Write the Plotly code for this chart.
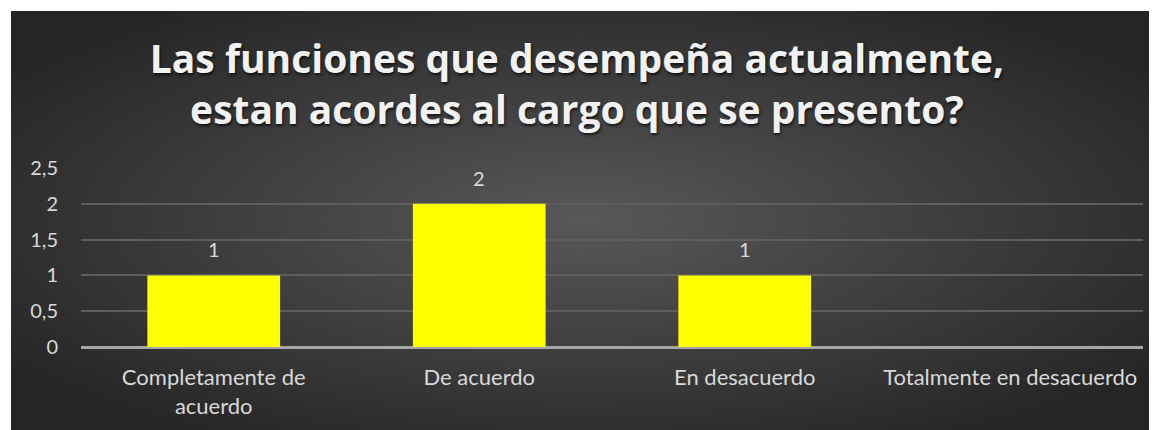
import plotly.graph_objects as go
import base64

categories = ["Completamente de<br>acuerdo", "De acuerdo", "En desacuerdo", "Totalmente en desacuerdo"]
values = [1, 2, 1, 0]
labels = ["1", "2", "1", ""]
y_ticks = [0, 0.5, 1, 1.5, 2, 2.5]
title_text = "Las funciones que desempeña actualmente,<br>estan acordes al cargo que se presento?"

# page has an 8px body margin, so the figure is sized to the remaining area
OFF = 8
W, H = 1157 - OFF, 430 - OFF
L, R, T, B = 81 - OFF, 14, 168 - OFF, 430 - 347
PW, PH = W - L - R, H - T - B
BX, BY = 11 - OFF, 11 - OFF

svg = ('<svg xmlns="http://www.w3.org/2000/svg" width="1146" height="419" preserveAspectRatio="none">'
       '<defs><radialGradient id="g" cx="50%" cy="50%" r="62%" gradientUnits="objectBoundingBox">'
       '<stop offset="0" stop-color="#585858"/><stop offset="1" stop-color="#252525"/>'
       '</radialGradient></defs><rect width="1146" height="419" fill="url(#g)"/></svg>')
src = "data:image/svg+xml;base64," + base64.b64encode(svg.encode()).decode()

fig = go.Figure()
fig.add_trace(go.Bar(
    x=categories, y=values, marker=dict(color="#FFFF00", line=dict(width=0)),
    width=0.5, hoverinfo="skip",
))
for c, v, t in zip(categories, values, labels):
    if t:
        fig.add_annotation(x=c, y=v, text=t, showarrow=False, yanchor="bottom", yshift=12,
                           font=dict(family="Lato", size=20, color="#D9D9D9"))

fig.add_layout_image(dict(
    source=src, xref="paper", yref="paper",
    x=(BX - L) / PW, y=(H - B - BY) / PH,
    sizex=(W - BX) / PW, sizey=(H - BY) / PH,
    xanchor="left", yanchor="top", sizing="stretch", layer="below",
))

fig.update_layout(
    width=W, height=H,
    margin=dict(l=L, r=R, t=T, b=B, pad=0),
    paper_bgcolor="white", plot_bgcolor="rgba(0,0,0,0)",
    separators=", ",
    showlegend=False,
    title=dict(text=title_text, x=(577 - OFF) / W, xref="container", xanchor="center",
               y=1 - (73 - OFF) / H, yref="container", yanchor="middle",
               font=dict(family="Open Sans", size=39, color="#F2F2F2", weight="bold",
                         shadow="1px 2px 3px rgba(0,0,0,0.7)")),
    bargap=0.5,
    xaxis=dict(showgrid=False, showline=False, ticks="", zeroline=False,
               tickfont=dict(family="Lato", size=22, color="#D9D9D9"),
               ticklabelstandoff=15, fixedrange=True),
    yaxis=dict(range=[0, 2.5], tickvals=y_ticks, showgrid=True, gridcolor="#5E5E5E", gridwidth=1.5,
               zeroline=True, zerolinecolor="#A6A6A6", zerolinewidth=2.5, showline=False, ticks="",
               tickfont=dict(family="Lato", size=20, color="#D9D9D9"),
               ticklabelstandoff=22, fixedrange=True),
)
fig.write_html("out.html")
